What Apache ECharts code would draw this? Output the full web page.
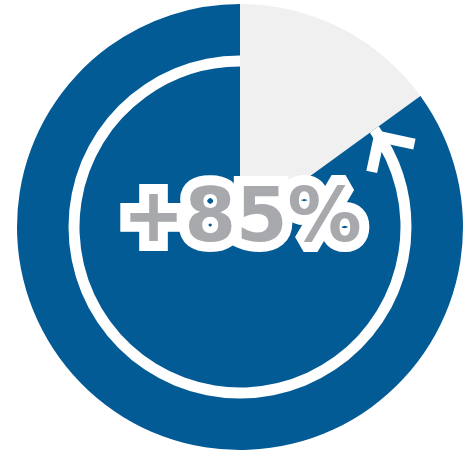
<!DOCTYPE html>
<html>
<head>
<meta charset="utf-8">
<style>
  html, body { margin: 0; padding: 0; background: #fff; }
  #main { width: 472px; height: 451px; }
</style>
<script src="https://cdn.jsdelivr.net/npm/echarts@6/dist/echarts.min.js"></script>
</head>
<body>
<div id="main"></div>
<script>
// share values
var sliceNames = ['rest', 'growth'];
var sliceValues = [15, 85];
var sliceColors = ['#f0f0f0', '#035b96'];
var labelText = '+85%';

var cx = 240, cy = 227, r = 223;
var ringR = 166;

var chart = echarts.init(document.getElementById('main'));

// arrow head at the end of the ring (angle measured clockwise from top)
var endDeg = 360 * sliceValues[0] / 100 + 3;
var t = endDeg * Math.PI / 180;
var tip = [cx + ringR * Math.sin(t), cy - ringR * Math.cos(t)];
var back = [Math.cos(t), Math.sin(t)];   // opposite of travel direction
function rot(v, a) {
    return [v[0] * Math.cos(a) - v[1] * Math.sin(a), v[0] * Math.sin(a) + v[1] * Math.cos(a)];
}
var armLen = 36;
var a1 = rot(back, Math.PI / 4), a2 = rot(back, -Math.PI / 4);

var textFont = 'bold 74px "DejaVu Sans"';

var option = {
    animation: false,
    series: [{
        type: 'pie',
        center: [cx, cy],
        radius: [0, r],
        startAngle: 90,
        clockwise: true,
        silent: true,
        label: { show: false },
        labelLine: { show: false },
        data: sliceNames.map(function (n, i) {
            return { name: n, value: sliceValues[i], itemStyle: { color: sliceColors[i] } };
        })
    }, {
        // white ring going round the growth part
        type: 'pie',
        center: [cx, cy],
        radius: [ringR - 5.5, ringR + 5.5],
        startAngle: 90,
        clockwise: false,
        silent: true,
        label: { show: false },
        labelLine: { show: false },
        data: [
            { value: sliceValues[1], itemStyle: { color: '#ffffff' } },
            { value: sliceValues[0], itemStyle: { color: 'rgba(0,0,0,0)' } }
        ]
    }],
    graphic: [{
        type: 'polyline',
        shape: {
            points: [
                [tip[0] + a1[0] * armLen, tip[1] + a1[1] * armLen],
                tip,
                [tip[0] + a2[0] * armLen, tip[1] + a2[1] * armLen]
            ]
        },
        style: { stroke: '#ffffff', lineWidth: 11, fill: null, lineJoin: 'miter', lineCap: 'butt' },
        z: 10
    }, {
        // white outline under the text
        type: 'text',
        x: 242,
        y: 222,
        z: 20,
        style: {
            text: labelText,
            fill: '#ffffff',
            stroke: '#ffffff',
            lineWidth: 20,
            lineJoin: 'round',
            font: textFont,
            align: 'center',
            verticalAlign: 'middle'
        }
    }, {
        type: 'text',
        x: 242,
        y: 222,
        z: 21,
        style: {
            text: labelText,
            fill: '#a7a9ac',
            font: textFont,
            align: 'center',
            verticalAlign: 'middle'
        }
    }]
};

chart.setOption(option);
</script>
</body>
</html>
